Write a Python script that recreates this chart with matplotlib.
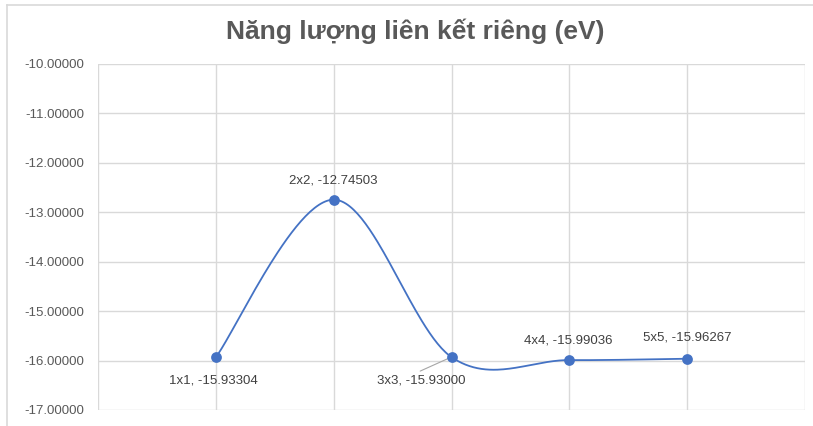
import numpy as np
import matplotlib
matplotlib.use("Agg")
import matplotlib.pyplot as plt
from matplotlib.lines import Line2D

# Data
categories = ["1x1", "2x2", "3x3", "4x4", "5x5"]
energies = [-15.93304, -12.74503, -15.93000, -15.99036, -15.96267]
y_ticks = [-17, -16, -15, -14, -13, -12, -11, -10]

title_text = "Năng lượng liên kết riêng (eV)"

line_color = "#4472C4"
grid_color = "#D9D9D9"
text_gray = "#595959"
label_gray = "#404040"

plt.rcParams["font.family"] = ["Liberation Sans", "DejaVu Sans"]

W, H = 813, 426
fig = plt.figure(figsize=(W / 100, H / 100), dpi=100)
ax = fig.add_axes([98 / W, (H - 410) / H, 707 / W, 346 / H])

xs = np.arange(1, len(categories) + 1, dtype=float)
ys = np.array(energies, dtype=float)


def smooth_curve(x, y, n=60):
    """Cardinal (Catmull-Rom) Bezier smoothing through all points."""
    px, py = [], []
    m = len(x)
    for i in range(m - 1):
        x0, y0 = (x[i - 1], y[i - 1]) if i > 0 else (x[i], y[i])
        x1, y1 = x[i], y[i]
        x2, y2 = x[i + 1], y[i + 1]
        x3, y3 = (x[i + 2], y[i + 2]) if i + 2 < m else (x[i + 1], y[i + 1])
        c1x, c1y = x1 + (x2 - x0) / 6, y1 + (y2 - y0) / 6
        c2x, c2y = x2 - (x3 - x1) / 6, y2 - (y3 - y1) / 6
        t = np.linspace(0, 1, n)
        a, b, c, d = (1 - t) ** 3, 3 * (1 - t) ** 2 * t, 3 * (1 - t) * t ** 2, t ** 3
        px.append(a * x1 + b * c1x + c * c2x + d * x2)
        py.append(a * y1 + b * c1y + c * c2y + d * y2)
    return np.concatenate(px), np.concatenate(py)


cx, cy = smooth_curve(xs, ys)
ax.plot(cx, cy, color=line_color, lw=1.3, zorder=3, solid_capstyle="round")
ax.scatter(xs, ys, s=60, color=line_color, zorder=4, linewidths=0)

ax.set_xlim(0, 6)
ax.set_ylim(-17, -10)
ax.set_xticks(np.arange(0, 7))
ax.set_yticks(y_ticks)
ax.set_yticklabels([f"{v:.5f}" for v in y_ticks], fontsize=9.5, color=text_gray)
ax.tick_params(axis="x", length=0, labelbottom=False)
ax.tick_params(axis="y", length=0, pad=10)
ax.grid(True, color=grid_color, lw=1.0)
for s in ax.spines.values():
    s.set_visible(False)

# Data labels: (dx, dy) offsets in points
offsets = [(-2, -17), (0, 14), (-22, -17), (-1, 14), (0, 15)]
for cat, x, y, (dx, dy) in zip(categories, xs, ys, offsets):
    ax.annotate(f"{cat}, {y:.5f}", (x, y), xytext=(dx, dy), textcoords="offset points",
                ha="center", va="center", fontsize=9.5, color=label_gray, zorder=5)

# Leader line for the 3x3 label
ax.annotate("", (xs[2] - 0.03, ys[2] - 0.03), xytext=(-20, -9), textcoords="offset points",
            arrowprops=dict(arrowstyle="-", color="#A6A6A6", lw=0.8, shrinkA=0, shrinkB=0))

fig.text(415 / W, 1 - 31 / H, title_text, ha="center", va="center",
         fontsize=19, fontweight="bold", color=text_gray)

# Chart frame
fig.add_artist(Line2D([7 / W, 7 / W], [0, 1 - 5 / H], transform=fig.transFigure,
                      color=grid_color, lw=1.2))
fig.add_artist(Line2D([7 / W, 1], [1 - 5 / H, 1 - 5 / H], transform=fig.transFigure,
                      color=grid_color, lw=1.2))

fig.savefig("out.png", dpi=100, facecolor="white")
